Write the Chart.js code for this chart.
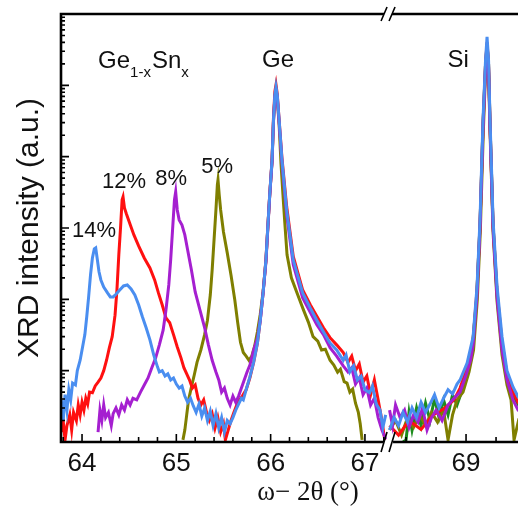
<!DOCTYPE html>
<html>
<head>
<meta charset="utf-8">
<script src="https://cdn.jsdelivr.net/npm/chart.js@4.4.1/dist/chart.umd.min.js"></script>
<style>
  html, body { margin: 0; padding: 0; background: #fff; overflow: hidden; }
  #wrap { width: 560px; height: 512px; }
</style>
</head>
<body>
<div id="wrap"><canvas id="xrd" width="560" height="512"></canvas></div>
<script>
// omega-2theta scans, [angle (deg), intensity (a.u.)], null = axis break
const sn14 = [[63.78,3.9],[63.80,2.0],[63.82,4.6],[63.84,2.8],[63.86,5.4],[63.88,3.9],[63.90,6.7],[63.93,6.3],[63.95,10],[63.98,14],[64.00,19.5],[64.03,32],[64.05,57],[64.07,108],[64.09,220],[64.11,380],[64.13,510],[64.145,526],[64.16,380],[64.18,243],[64.20,187],[64.23,149],[64.27,123],[64.30,108],[64.33,108],[64.36,118],[64.40,135],[64.44,154],[64.48,159],[64.52,140],[64.56,115],[64.60,84],[64.64,57],[64.68,40],[64.72,27],[64.76,16.6],[64.80,11.3],[64.82,9.6],[64.85,10],[64.88,8.4],[64.91,9],[64.94,7.4],[64.97,7.9],[65.00,6.5],[65.03,5.7],[65.06,6.1],[65.09,4.4],[65.12,3.6],[65.15,4.1],[65.18,3.2],[65.21,2.6],[65.24,3.4],[65.27,2.3],[65.30,3.0],[65.33,2.0],[65.36,2.7],[65.39,1.7],[65.42,2.5],[65.45,1.57],[65.48,2.2],[65.51,1.38],[65.54,2.0],[65.57,1.8],[65.60,2.2],[65.63,2.8],[65.66,3.4],[65.69,4.1],[65.71,3.9],[65.74,5.4],[65.78,8.2],[65.82,13.2],[65.86,24.5],[65.89,51],[65.92,123],[65.95,357],[65.97,1040],[65.99,2900],[66.015,9000],[66.03,32800],[66.045,73600],[66.057,95000],[66.07,73600],[66.09,32800],[66.12,9000],[66.17,1790],[66.24,357],[66.34,123],[66.42,76],[66.49,51],[66.56,35],[66.63,24.5],[66.70,19.5],[66.77,14],[66.80,16.6],[66.84,9.6],[66.88,11.7],[66.92,7.4],[66.96,8.4],[67.00,5.4],[67.05,4.9],[67.08,6.1],[67.12,3.4],[67.16,2.8],[67.19,1.6],[67.22,2.4],[67.8,null],
  [68.49,1.47],[68.52,2.2],[68.55,1.7],[68.58,2.6],[68.61,1.9],[68.64,3.0],[68.67,2.2],[68.70,3.6],[68.73,2.6],[68.76,3.4],[68.79,4.6],[68.82,3.0],[68.85,4.1],[68.88,5.4],[68.91,4.7],[68.94,6.5],[68.96,7.4],[69.007,12.8],[69.047,29.7],[69.073,149],[69.093,1300],[69.113,32800],[69.13,228000],[69.14,480000],[69.15,228000],[69.16,32800],[69.18,1300],[69.207,149],[69.24,29.7],[69.273,10],[69.313,5.9],[69.347,4.3],[69.40,3.3],[69.45,3.0],[69.50,2.6],[69.55,2.4],[69.59,2.2]];

const sn12 = [[63.78,1.38],[63.80,2.0],[63.82,1.07],[63.84,1.7],[63.87,2.4],[63.89,1.47],[63.91,2.6],[63.94,2.0],[63.96,3.3],[63.98,2.4],[64.00,3.6],[64.02,2.8],[64.04,4.1],[64.06,3.4],[64.08,5.0],[64.11,4.9],[64.14,6.1],[64.17,6.9],[64.20,7.9],[64.23,10],[64.26,14],[64.29,21],[64.32,30],[64.35,60],[64.37,135],[64.39,420],[64.41,1100],[64.425,2480],[64.435,2730],[64.45,1910],[64.47,1580],[64.50,1220],[64.55,800],[64.60,560],[64.66,380],[64.72,275],[64.77,187],[64.81,123],[64.85,84],[64.89,55],[64.93,47],[64.97,32],[65.01,21.5],[65.05,15],[65.08,11],[65.11,9],[65.14,7.4],[65.17,5.7],[65.20,6.3],[65.23,4.1],[65.26,3.3],[65.29,3.9],[65.32,2.6],[65.35,2.0],[65.38,2.5],[65.41,1.57],[65.44,2.2],[65.47,1.38],[65.50,1.8],[65.52,1.07],[65.55,1.47],[65.58,2.0],[65.61,2.6],[65.64,3.3],[65.67,3.9],[65.70,4.4],[65.74,5.4],[65.78,7.9],[65.82,13.2],[65.86,24.5],[65.89,51],[65.92,123],[65.95,357],[65.97,1040],[65.99,2900],[66.015,9000],[66.03,35000],[66.045,82000],[66.057,102000],[66.07,76000],[66.09,32800],[66.12,9600],[66.17,2000],[66.24,400],[66.34,135],[66.42,84],[66.49,58],[66.56,40],[66.63,29],[66.70,23],[66.77,18],[66.82,13],[66.86,16],[66.90,10],[66.94,12.4],[66.98,6.9],[67.02,8.4],[67.06,4.6],[67.10,7.4],[67.14,3.9],[67.18,2.0],[67.21,1.07],[67.8,null],
  [68.49,1.7],[68.55,1.25],[68.62,2],[68.70,1.5],[68.78,2.4],[68.86,3],[68.92,3.9],[68.96,5.7],[69.007,11],[69.047,27],[69.073,135],[69.093,1100],[69.113,28000],[69.13,200000],[69.14,400000],[69.15,200000],[69.16,28000],[69.18,1100],[69.207,127],[69.24,25],[69.273,9],[69.313,5],[69.347,3.6],[69.40,2.8],[69.50,2.2],[69.59,1.9]];

const sn8 = [[64.17,1.38],[64.19,2.8],[64.21,2.0],[64.23,3.3],[64.25,2.2],[64.28,2.6],[64.31,1.7],[64.33,2.5],[64.36,3.0],[64.39,2.4],[64.42,3.3],[64.45,2.8],[64.48,3.9],[64.51,3.3],[64.54,4.1],[64.58,3.9],[64.62,5.0],[64.66,6.3],[64.70,7.9],[64.74,11],[64.78,15],[64.82,23],[64.86,37],[64.89,71],[64.92,159],[64.94,357],[64.96,940],[64.98,2480],[64.993,3210],[65.01,1790],[65.03,1300],[65.06,1100],[65.09,800],[65.12,490],[65.16,258],[65.20,127],[65.25,71],[65.30,40],[65.34,23],[65.38,14],[65.42,9.6],[65.45,7.4],[65.48,5.0],[65.51,5.7],[65.54,4.1],[65.57,3.3],[65.60,4.4],[65.63,3.6],[65.66,4.4],[65.69,5.7],[65.72,7.4],[65.75,9.6],[65.78,12],[65.82,19.5],[65.86,28.5],[65.89,51],[65.92,123],[65.95,333],[65.97,980],[65.99,2800],[66.015,8500],[66.03,30800],[66.045,69000],[66.057,86000],[66.07,69000],[66.09,30000],[66.12,8300],[66.17,1530],[66.24,305],[66.34,105],[66.42,66],[66.49,44],[66.56,32],[66.63,21],[66.70,16],[66.77,11.7],[66.82,9.6],[66.86,11],[66.90,6.5],[66.94,7.9],[66.98,4.6],[67.02,5.7],[67.06,3.3],[67.10,4.1],[67.14,2.2],[67.18,1.47],[67.22,1.1],[67.8,null],
  [68.49,2.8],[68.51,1.7],[68.53,3.3],[68.56,2.2],[68.59,2.8],[68.62,1.6],[68.65,2.4],[68.68,1.9],[68.71,3],[68.74,1.47],[68.77,2.2],[68.80,2.8],[68.84,2],[68.88,3.3],[68.92,4.1],[68.96,5],[69.0,8.7],[69.03,14],[69.047,23],[69.073,115],[69.093,1000],[69.113,25000],[69.13,180000],[69.14,370000],[69.15,180000],[69.16,25000],[69.18,1000],[69.207,105],[69.24,19.5],[69.273,7.4],[69.313,3.9],[69.347,2.8],[69.40,2.2],[69.50,1.8],[69.59,1.5]];

const sn5 = [[65.07,1.07],[65.09,1.47],[65.11,2.4],[65.13,3.9],[65.16,5.9],[65.19,8.7],[65.22,13.2],[65.26,19.5],[65.30,32],[65.33,51],[65.36,115],[65.38,258],[65.40,680],[65.42,1790],[65.435,4020],[65.442,4730],[65.455,2900],[65.47,1790],[65.50,880],[65.54,448],[65.58,218],[65.62,98],[65.65,48],[65.68,25],[65.71,18],[65.74,16],[65.77,14],[65.80,16],[65.83,22],[65.86,35],[65.89,62],[65.92,128],[65.95,345],[65.97,1000],[65.99,2850],[66.015,8700],[66.03,31000],[66.045,70000],[66.057,88000],[66.07,66000],[66.09,28000],[66.11,8000],[66.13,3000],[66.15,1200],[66.174,420],[66.22,200],[66.28,123],[66.35,70],[66.40,48],[66.45,30],[66.50,26],[66.54,19.5],[66.58,20],[66.63,14],[66.67,12],[66.71,9.5],[66.74,10.5],[66.78,7],[66.81,6.7],[66.84,5],[66.87,5.5],[66.90,3.5],[66.93,2.6],[66.95,1.8],[66.97,1.07],[67.8,null],
  [68.49,1.47],[68.53,2],[68.57,1.25],[68.61,2.2],[68.65,1.6],[68.69,2.4],[68.73,1.7],[68.77,2.6],[68.81,1.9],[68.85,2.8],[68.88,1.07],[68.91,2.4],[68.94,3.9],[68.98,5],[69.02,9.6],[69.05,19.5],[69.075,98],[69.095,880],[69.115,22000],[69.13,155000],[69.14,310000],[69.15,155000],[69.16,22000],[69.18,880],[69.207,92],[69.24,16.6],[69.273,6.3],[69.30,3.9],[69.32,1.07],[69.35,2],[69.40,1.7],[69.50,1.5],[69.59,1.3]];

const geRef = [[68.58,1.0],[68.60,1.07],[68.62,2.6],[68.64,1.47],[68.67,3],[68.70,1.7],[68.73,3.5],[68.76,2],[68.79,4.1],[68.82,2.2],[68.85,3.9],[68.88,2.4],[68.91,4.6],[68.94,3.3],[68.97,5],[69.0,7.9],[69.04,19.5],[69.07,98],[69.093,1100],[69.113,28000],[69.13,200000],[69.14,370000],[69.15,200000],[69.16,28000],[69.18,1100],[69.207,115],[69.24,23],[69.273,7.9],[69.313,4.6],[69.35,3.3],[69.40,2.6],[69.50,2.1],[69.59,1.8]];

// first entry is drawn on top
const seriesData = [sn14, sn8, sn12, sn5, geRef];
const seriesColors = ['#4a8ef0', '#a51fd0', '#ff1010', '#7f7f00', '#1e8c1e'];

const xMajorTicks = [64, 65, 66, 67, 69];
const yMin = 1, yMax = 1e6;

const peakLabels = ['14%', '12%', '8%', '5%', 'Ge', 'Si'];
const peakLabelX = [64.127, 64.445, 64.944, 65.432, 66.078, 68.947];
const peakLabelY = [750, 3650, 4020, 5930, 182000, 182000];

// broken x axis: two segments with their own scale
const xSegments = [[63.777, 67.245], [68.48, 69.593]];
const xPxPerDeg = [94.3, 150];

const sans = "'Liberation Sans', Arial, sans-serif";
const serif = "'Liberation Serif', 'Times New Roman', serif";

class BrokenLinearScale extends Chart.LinearScale {
  static id = 'brokenLinear';
  static defaults = Chart.LinearScale.defaults;
  segWidths() { return xSegments.map((s, i) => (s[1] - s[0]) * xPxPerDeg[i]); }
  getPixelForValue(value) {
    const w = this.segWidths();
    const total = w.reduce((a, b) => a + b, 0);
    let acc = 0;
    for (let i = 0; i < xSegments.length; i++) {
      const [a, b] = xSegments[i];
      if (value <= b || i === xSegments.length - 1) {
        const v = i === 0 ? value : Math.max(value, a);
        return this.left + (this.right - this.left) * (acc + (v - a) * xPxPerDeg[i]) / total;
      }
      acc += w[i];
    }
  }
  getValueForPixel(pixel) {
    const w = this.segWidths();
    const total = w.reduce((a, b) => a + b, 0);
    let d = (pixel - this.left) / (this.right - this.left) * total;
    for (let i = 0; i < xSegments.length; i++) {
      if (d <= w[i] || i === xSegments.length - 1) return xSegments[i][0] + d / xPxPerDeg[i];
      d -= w[i];
    }
  }
}
Chart.register(BrokenLinearScale);

const decor = {
  id: 'decor',
  afterDatasetsDraw(chart) {
    const ctx = chart.ctx, xs = chart.scales.x, ys = chart.scales.y;
    const { left, right, top, bottom } = chart.chartArea;
    const bx = xs.getPixelForValue(xSegments[0][1]);
    ctx.save();
    ctx.strokeStyle = '#000';
    ctx.lineCap = 'butt';

    // inward tick marks
    ctx.lineWidth = 1.6;
    ctx.beginPath();
    xSegments.forEach(([a, b]) => {
      for (let t = Math.ceil(a * 5) / 5; t <= b + 1e-9; t += 0.2) {
        const v = Math.round(t * 10) / 10;
        const major = xMajorTicks.includes(v);
        const px = xs.getPixelForValue(v);
        ctx.moveTo(px, bottom);
        ctx.lineTo(px, bottom - (major ? 8 : 5));
      }
    });
    for (let e = 0; Math.pow(10, e) <= yMax; e++) {
      for (let k = 1; k <= 9; k++) {
        const v = k * Math.pow(10, e);
        if (v > yMax) break;
        const py = ys.getPixelForValue(v);
        ctx.moveTo(left, py);
        ctx.lineTo(left + (k === 1 ? 8 : 4), py);
      }
    }
    ctx.stroke();

    // frame: left, bottom, top (no right side visible)
    ctx.lineWidth = 2.6;
    ctx.beginPath();
    ctx.moveTo(left, top - 1.3); ctx.lineTo(left, bottom + 1.3);
    ctx.moveTo(left, bottom); ctx.lineTo(bx - 5, bottom);
    ctx.moveTo(bx + 5, bottom); ctx.lineTo(right + 10, bottom);
    ctx.moveTo(left, top); ctx.lineTo(bx - 4, top);
    ctx.moveTo(bx + 4, top); ctx.lineTo(right + 10, top);
    ctx.stroke();

    // break marks
    ctx.fillStyle = '#fff';
    ctx.fillRect(bx - 4, bottom - 2, 8, 10);
    ctx.lineWidth = 1.6;
    ctx.beginPath();
    [[bottom, 10], [top, 7]].forEach(([y, h]) => {
      ctx.moveTo(bx - 7, y + h); ctx.lineTo(bx - 1, y - h);
      ctx.moveTo(bx + 1, y + h); ctx.lineTo(bx + 7, y - h);
    });
    ctx.stroke();

    // peak annotations
    ctx.fillStyle = '#111';
    ctx.textBaseline = 'alphabetic';
    ctx.textAlign = 'center';
    peakLabels.forEach((txt, i) => {
      ctx.font = (txt.endsWith('%') ? '22px ' : '24px ') + sans;
      ctx.fillText(txt, xs.getPixelForValue(peakLabelX[i]), ys.getPixelForValue(peakLabelY[i]));
    });

    // Ge(1-x)Sn(x) with subscripts
    ctx.textAlign = 'left';
    let x = xs.getPixelForValue(64.17);
    const y = ys.getPixelForValue(176000);
    [['Ge', 24, 0], ['1-x', 15, 9], ['Sn', 24, 0], ['x', 15, 9]].forEach(([s, size, dy]) => {
      ctx.font = size + 'px ' + sans;
      ctx.fillText(s, x, y + dy);
      x += ctx.measureText(s).width + (dy ? 1 : 0);
    });
    ctx.restore();
  }
};

new Chart(document.getElementById('xrd'), {
  type: 'line',
  data: {
    datasets: seriesData.map((pts, i) => ({
      data: pts.map(p => ({ x: p[0], y: p[1] })),
      borderColor: seriesColors[i],
      borderWidth: 3,
      pointRadius: 0,
      tension: 0,
      fill: false,
      spanGaps: false
    }))
  },
  options: {
    responsive: false,
    animation: false,
    events: [],
    layout: { padding: { left: 0, top: 14, right: 5, bottom: 0 } },
    plugins: { legend: { display: false }, tooltip: { enabled: false } },
    scales: {
      x: {
        type: 'brokenLinear',
        min: xSegments[0][0],
        max: xSegments[1][1],
        afterBuildTicks: s => { s.ticks = xMajorTicks.map(v => ({ value: v })); },
        afterFit: s => { s.height = 70; },
        grid: { display: false, drawTicks: false },
        border: { display: false },
        ticks: { color: '#111', padding: 6, maxRotation: 0, autoSkip: false,
                 font: { family: sans, size: 26 }, callback: v => String(v) },
        title: { display: true, text: 'ω− 2θ (°)', color: '#111',
                 font: { family: serif, size: 27 }, padding: { top: 0, bottom: 3 } }
      },
      y: {
        type: 'logarithmic',
        min: yMin,
        max: yMax,
        afterFit: s => { s.width = 61; },
        ticks: { display: false },
        grid: { display: false },
        border: { display: false },
        title: { display: true, text: 'XRD intensity (a.u.)', color: '#111',
                 font: { family: sans, size: 30 }, padding: { top: 12, bottom: 0 } }
      }
    }
  },
  plugins: [decor]
});
</script>
</body>
</html>
